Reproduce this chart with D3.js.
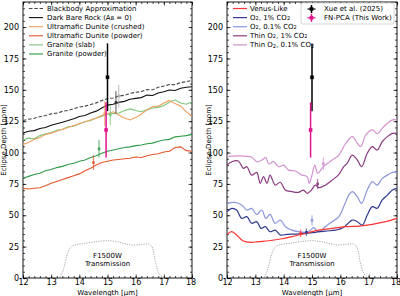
<!DOCTYPE html>
<html><head><meta charset="utf-8">
<script src="https://cdn.jsdelivr.net/npm/d3@7"></script>
<style>body{margin:0;background:#fff}svg{display:block}text{font-family:"DejaVu Sans",sans-serif}</style>
</head><body><svg id="c" width="400" height="296"></svg>
<script>
// ---------- DATA ----------
const wlGrid = [12.0,12.2,12.4,12.6,12.8,13.0,13.2,13.4,13.6,13.8,14.0,14.2,14.4,14.6,14.8,15.0,15.2,15.4,15.6,15.8,16.0,16.2,16.4,16.6,16.8,17.0,17.2,17.4,17.6,17.8,18.0];
const blackbody = [125.5,126.5,127.3,128.6,129.5,130.8,131.4,132.8,133.6,135.0,136.2,137.0,138.3,139.6,141.4,143.0,143.5,145.0,145.6,147.2,148.0,148.6,150.2,150.0,152.0,153.0,154.2,154.0,155.8,156.5,157.5];
const darkRock = [115.5,117.0,117.5,119.2,120.0,121.8,123.0,124.2,125.5,127.0,128.8,129.5,131.5,133.0,135.5,137.8,138.5,140.0,140.8,142.5,143.2,143.8,145.8,145.5,147.5,148.5,149.8,149.5,151.2,152.0,152.5];
const duniteCrushed = [106.5,108.0,110.5,112.0,114.5,115.5,117.0,118.5,120.0,121.5,123.0,124.5,126.0,127.5,129.5,131.0,132.5,130.0,127.5,126.0,128.0,130.5,134.0,136.5,137.0,139.5,141.5,139.0,137.0,132.5,129.0];
const dunitePowder = [71.5,71.0,71.5,72.0,73.5,75.5,77.0,78.5,80.0,81.5,83.0,85.5,87.5,90.0,92.0,93.0,94.0,94.5,95.0,95.5,96.5,96.0,97.5,98.5,99.0,100.5,101.0,104.0,104.5,101.5,101.0];
const graniteSlab = [110.0,111.5,111.0,113.5,115.0,116.0,117.8,118.5,120.5,121.0,123.0,124.5,125.5,127.5,129.0,130.5,131.0,131.5,133.5,134.8,133.5,132.5,134.0,135.5,136.0,137.5,140.0,142.0,139.5,138.5,140.5];
const granitePowder = [79.5,81.0,82.5,83.5,85.5,86.5,88.0,89.0,90.5,91.5,93.0,94.0,96.0,97.5,99.5,101.0,102.0,103.0,104.0,104.5,105.5,106.0,107.0,107.5,109.0,110.0,110.5,112.5,113.0,113.5,114.5];

const venusX = [12.0,12.17,12.34,12.52,12.64,12.87,13.1,13.47,13.88,14.29,14.77,15.24,15.71,16.18,16.66,17.13,17.6,18.0];
const venusY = [34.8,36.9,34.3,30.3,29.0,28.4,29.0,29.7,31.1,33.0,35.6,38.2,39.6,40.9,41.4,42.8,44.9,47.5];
const o2HiX = [12.0,12.17,12.34,12.52,12.7,12.87,13.05,13.2,13.35,13.52,13.7,13.88,14.12,14.41,14.77,15.12,15.47,15.83,16.06,16.24,16.42,16.6,16.78,16.95,17.13,17.3,17.48,17.66,17.84,18.0];
const o2HiY = [52.9,55.5,54.2,47.5,48.9,43.6,44.9,39.6,40.9,36.9,38.2,34.3,34.8,35.0,35.6,36.4,37.4,38.2,39.6,42.8,46.2,44.9,42.2,50.2,56.9,55.5,62.2,66.1,70.1,71.4];
const o2LoX = [12.0,12.28,12.52,12.7,12.87,13.05,13.23,13.37,13.52,13.7,13.88,14.06,14.29,14.53,14.77,14.95,15.06,15.24,15.47,15.71,15.95,16.12,16.3,16.42,16.6,16.75,16.95,17.13,17.3,17.48,17.66,17.84,18.0];
const o2LoY = [59.5,60.3,58.2,54.2,55.5,50.7,54.2,47.5,50.7,43.6,46.2,40.9,38.2,36.9,36.4,38.2,40.1,36.9,40.9,44.9,48.9,56.9,66.1,68.8,64.8,59.5,70.1,76.8,74.1,79.4,82.0,84.2,84.2];
const thinHiX = [12.0,12.17,12.4,12.58,12.7,12.87,13.05,13.17,13.29,13.41,13.52,13.7,13.88,14.06,14.29,14.53,14.7,14.83,14.98,15.12,15.24,15.47,15.71,15.95,16.12,16.24,16.42,16.6,16.75,16.95,17.13,17.3,17.48,17.66,17.84,18.0];
const thinHiY = [90.0,92.7,93.3,87.4,88.7,82.0,84.2,75.5,80.8,75.5,82.0,74.1,76.3,70.1,68.8,68.3,70.1,67.5,70.1,74.1,72.0,74.0,78.0,82.6,88.7,91.4,98.0,94.0,88.7,99.4,104.7,102.0,108.7,112.7,115.3,115.3];
const thinLoX = [12.0,12.4,12.87,13.05,13.23,13.37,13.47,13.64,13.82,14.0,14.17,14.41,14.65,14.83,14.9,15.0,15.1,15.2,15.35,15.47,15.71,15.95,16.18,16.42,16.6,16.72,16.9,17.13,17.3,17.48,17.66,17.84,18.0];
const thinLoY = [96.7,97.3,96.2,92.7,94.0,96.0,90.9,92.7,88.7,90.0,86.0,85.3,82.0,80.8,75.5,82.0,90.0,83.4,87.4,90.0,94.0,98.0,107.0,112.7,107.4,104.7,114.0,118.0,115.0,119.3,123.3,126.0,126.0];

const filterX = [13.25,13.35,13.45,13.55,13.65,13.75,14.0,14.3,14.6,15.0,15.3,15.6,15.9,16.2,16.45,16.6,16.7,16.8,16.9,17.0];
const filterY = [0,2,8,17,23,25.5,27,28,29,29.7,29,27.5,26.2,26.8,27.2,24,13,5,1.5,0];

// binned model points [x, y, err]
const leftModelPts = [[15.4,145,9],[15.3,140,9],[14.9,131,10],[14.5,92,6],[15.1,130,8],[14.7,103,7]];
const rightModelPts = [[14.6,35.6,3],[14.8,36.4,3],[15.0,46,4],[15.2,75,4],[15.4,91,5]];
// observations [x, y, err]
const xuePt = [15.0,160,27];
const fnpcaPt = [14.95,118,22];

const xTicks = [12,13,14,15,16,17,18];
const yTicks = [0,25,50,75,100,125,150,175,200];

const leftColors = ["#444","#111","#f0a060","#e4572e","#7cc57a","#2f9a48"];
const rightColors = ["#ff3333","#2f3a8f","#8c96dc","#8c3a80","#d492d0"];
const ptColors = {xue:"#000", fn:"#e0148c"};

// ---------- DRAW ----------
const svg = d3.select("#c");
const yTop = 2, yBot = 278;
const y = d3.scaleLinear().domain([0,220]).range([yBot,yTop]);

function panel(x0,x1,labelX){
  const x = d3.scaleLinear().domain([12,18]).range([x0,x1]);
  const g = svg.append("g");
  const minorX = d3.range(12,18.001,0.2), minorY = d3.range(0,220.001,5);
  const mk = (ax,t,s)=>ax.tickValues(t).tickSize(s).tickPadding(2);
  g.append("g").attr("transform",`translate(0,${yBot})`).call(mk(d3.axisBottom(x),minorX,-2).tickFormat(""));
  g.append("g").attr("transform",`translate(0,${yTop})`).call(mk(d3.axisTop(x),minorX,-2).tickFormat(""));
  g.append("g").attr("transform",`translate(${x0},0)`).call(mk(d3.axisLeft(y),minorY,-2).tickFormat(""));
  g.append("g").attr("transform",`translate(${x1},0)`).call(mk(d3.axisRight(y),minorY,-2).tickFormat(""));
  const xb = g.append("g").attr("class","lab").attr("transform",`translate(0,${yBot})`).call(mk(d3.axisBottom(x),xTicks,-3.5).tickFormat(d3.format("d")).tickPadding(1.5));
  xb.selectAll(".tick text").filter(d=>d===18).attr("dx",-1.5);
  g.append("g").attr("transform",`translate(0,${yTop})`).call(mk(d3.axisTop(x),xTicks,-3.5).tickFormat(""));
  g.append("g").attr("class","lab").attr("transform",`translate(${x0},0)`).call(mk(d3.axisLeft(y),yTicks,-3.5).tickFormat(d3.format("d")).tickPadding(4));
  g.append("g").attr("transform",`translate(${x1},0)`).call(mk(d3.axisRight(y),yTicks,-3.5).tickFormat(""));
  g.selectAll(".domain").remove();
  g.selectAll(".tick line").attr("stroke","#000").attr("stroke-width",0.7);
  g.selectAll(".lab text").attr("font-size",8).attr("fill","#000").attr("font-family","DejaVu Sans");
  g.append("rect").attr("x",x0).attr("y",yTop).attr("width",x1-x0).attr("height",yBot-yTop).attr("fill","none").attr("stroke","#000").attr("stroke-width",0.9);
  g.append("text").attr("x",(x0+x1)/2).attr("y",294.5).attr("text-anchor","middle").attr("font-size",7).text("Wavelength [μm]");
  g.append("text").attr("transform",`translate(${labelX},${(yTop+yBot)/2}) rotate(-90)`).attr("text-anchor","middle").attr("font-size",7).text("Eclipse Depth [ppm]");
  const fl = d3.line().x((d,i)=>x(filterX[i])).y(d=>y(d)).curve(d3.curveMonotoneX);
  g.append("path").attr("d",fl(filterY)).attr("fill","none").attr("stroke","#aaa").attr("stroke-width",1).attr("stroke-dasharray","1.2,1.2");
  g.append("text").attr("x",x(15)).attr("y",y(16)).attr("text-anchor","middle").attr("font-size",7).text("F1500W");
  g.append("text").attr("x",x(15)).attr("y",y(9.4)).attr("text-anchor","middle").attr("font-size",7).text("Transmission");
  return {x,g};
}

function errPt(g,x,p,color,lw,sz,op){
  g.append("line").attr("x1",x(p[0])).attr("x2",x(p[0])).attr("y1",y(p[1]-p[2])).attr("y2",y(p[1]+p[2])).attr("stroke",color).attr("stroke-width",lw).attr("opacity",op);
  g.append("rect").attr("x",x(p[0])-sz/2).attr("y",y(p[1])-sz/2).attr("width",sz).attr("height",sz).attr("fill",color).attr("opacity",op);
}

// LEFT
const L = panel(23,192,6);
const leftSeries = [blackbody,darkRock,duniteCrushed,dunitePowder,graniteSlab,granitePowder];
const lineL = d3.line().x((d,i)=>L.x(wlGrid[i])).y(d=>y(d));
[5,3,4,2,1,0].forEach(k=>{
  L.g.append("path").attr("d",lineL(leftSeries[k])).attr("fill","none").attr("stroke",leftColors[k]).attr("stroke-width",1.1)
   .attr("stroke-dasharray",k===0?"3.5,1.8":null);
});
const leftPtCol = ["#aaa","#333",leftColors[2],leftColors[3],leftColors[4],leftColors[5]];
leftModelPts.forEach((p,i)=>errPt(L.g,L.x,p,leftPtCol[i],0.9,2.6,0.9));

// RIGHT
const R = panel(227,397,211);
const rs = [[venusX,venusY],[o2HiX,o2HiY],[o2LoX,o2LoY],[thinHiX,thinHiY],[thinLoX,thinLoY]];
[4,3,2,1,0].forEach(k=>{
  const [xs,ys]=rs[k];
  const ln = d3.line().x((d,i)=>R.x(xs[i])).y(d=>y(d)).curve(d3.curveCatmullRom.alpha(0.5));
  R.g.append("path").attr("d",ln(ys)).attr("fill","none").attr("stroke",rightColors[k]).attr("stroke-width",1.2);
});
rightModelPts.forEach((p,i)=>errPt(R.g,R.x,p,rightColors[i],0.9,2.6,0.9));

[L,R].forEach(P=>{
  errPt(P.g,P.x,xuePt,ptColors.xue,1.5,3.6,1);
  errPt(P.g,P.x,fnpcaPt,ptColors.fn,1.5,3.6,1);
});

// legends: parts = [text, isSub]
function legendText(x,yy,parts){
  const tx = svg.append("text").attr("x",x).attr("y",yy).attr("font-size",7).attr("dominant-baseline","middle");
  let prevSub=false;
  parts.forEach(p=>{
    const s = tx.append("tspan").text(p[0]);
    if(p[1]) { s.attr("font-size",5).attr("dy",1.6); prevSub=true; }
    else if(prevSub) { s.attr("dy",-1.6); prevSub=false; }
  });
}
const rowY = i=>8.5+9.1*i;
const leftParts = [[["Blackbody Approximation"]],[["Dark Bare Rock (A"],["B",1],[" = 0)"]],[["Ultramafic Dunite (crushed)"]],[["Ultramafic Dunite (powder)"]],[["Granite (slab)"]],[["Granite (powder)"]]];
leftParts.forEach((p,i)=>{
  svg.append("line").attr("x1",29).attr("x2",43).attr("y1",rowY(i)).attr("y2",rowY(i)).attr("stroke",leftColors[i]).attr("stroke-width",1.1).attr("stroke-dasharray",i===0?"3.5,1.8":null);
  legendText(47,rowY(i),p);
});
const rightParts = [[["Venus-Like"]],[["O"],["2",1],[", 1% CO"],["2",1]],[["O"],["2",1],[", 0.1% CO"],["2",1]],[["Thin O"],["2",1],[", 1% CO"],["2",1]],[["Thin O"],["2",1],[", 0.1% CO"],["2",1]]];
rightParts.forEach((p,i)=>{
  svg.append("line").attr("x1",233).attr("x2",247).attr("y1",rowY(i)).attr("y2",rowY(i)).attr("stroke",rightColors[i]).attr("stroke-width",1.2);
  legendText(250,rowY(i),p);
});
svg.append("rect").attr("x",301).attr("y",3).attr("width",93).attr("height",21).attr("rx",2).attr("fill","#fff").attr("stroke","#ccc").attr("stroke-width",0.8);
[["Xue et al. (2025)",ptColors.xue],["FN-PCA (This Work)",ptColors.fn]].forEach((d,i)=>{
  const cy = 9+8.8*i, cx=311.5;
  svg.append("line").attr("x1",cx).attr("x2",cx).attr("y1",cy-4).attr("y2",cy+4).attr("stroke",d[1]).attr("stroke-width",1.5);
  svg.append("line").attr("x1",cx-4).attr("x2",cx+4).attr("y1",cy).attr("y2",cy).attr("stroke",d[1]).attr("stroke-width",1.2);
  svg.append("rect").attr("x",cx-1.8).attr("y",cy-1.8).attr("width",3.6).attr("height",3.6).attr("fill",d[1]);
  svg.append("text").attr("x",324).attr("y",cy).attr("dominant-baseline","middle").attr("font-size",7).text(d[0]);
});
</script></body></html>
